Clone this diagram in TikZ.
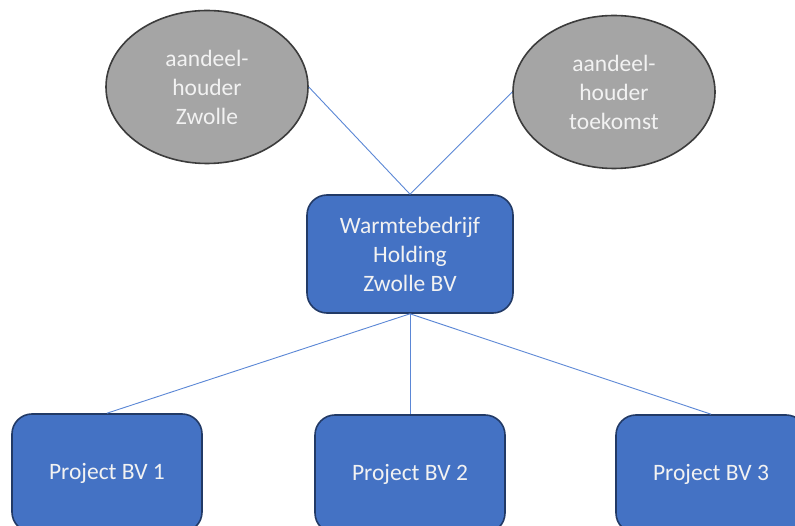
\documentclass[tikz,border=0pt]{standalone}
\usepackage{fontspec}
\setmainfont{Carlito}
\usetikzlibrary{shapes.geometric}
\definecolor{boxblue}{HTML}{4472C4}
\definecolor{boxedge}{HTML}{223A66}
\definecolor{ellfill}{HTML}{A5A5A5}
\definecolor{elledge}{HTML}{3C3C3C}
\definecolor{linkblue}{HTML}{5B87D6}
\definecolor{txt}{HTML}{F2F2F2}
\tikzset{
  owner/.style={ellipse, draw=elledge, line width=1.6pt, fill=ellfill, minimum width=202pt, minimum height=153pt, inner sep=0pt, text=txt, align=center, font=\fontsize{23.5}{29}\selectfont},
  company/.style={rectangle, rounded corners=20pt, draw=boxedge, line width=1.6pt, fill=boxblue, minimum width=206pt, minimum height=118pt, inner sep=0pt, text=txt, align=center, font=\fontsize{23.5}{29}\selectfont},
  project/.style={company, minimum width=190pt},
  link/.style={draw=linkblue, line width=0.9pt}
}
\begin{document}
\begin{tikzpicture}[x=1pt,y=-1pt]
\useasboundingbox (0,0) rectangle (795,526);
\fill[white] (0,0) rectangle (795,526);
\begin{scope}
\clip (0,0) rectangle (795,526);
\node[owner] (o1) at (207,87) {aandeel-\\houder\\Zwolle};
\node[owner] (o2) at (614,92) {aandeel-\\houder\\toekomst};
\node[company] (h) at (410,254) {Warmtebedrijf\\Holding\\Zwolle BV};
\node[project] (p1) at (107,473) {Project BV 1};
\node[project] (p2) at (410,474) {Project BV 2};
\node[project] (p3) at (711,474) {Project BV 3};
\draw[link] (o1.east) -- (h.north);
\draw[link] (o2.west) -- (h.north);
\draw[link] (h.south) -- (p1.north);
\draw[link] (h.south) -- (p2.north);
\draw[link] (h.south) -- (p3.north);
\end{scope}
\end{tikzpicture}
\end{document}
